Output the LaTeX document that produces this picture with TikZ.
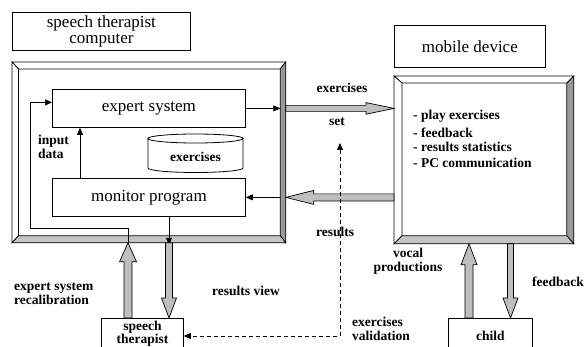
\documentclass[tikz,border=0pt]{standalone}
\usepackage{fontspec}
\setmainfont{LiberationSerif}[Extension=.ttf, UprightFont=*-Regular, BoldFont=*-Bold, ItalicFont=*-Italic, BoldItalicFont=*-BoldItalic]
\usetikzlibrary{calc,arrows.meta}
\definecolor{darkstrip}{HTML}{999999}
\definecolor{lightstrip}{HTML}{C4C4C4}
\definecolor{fatgray}{HTML}{BEBEBE}
\tikzset{
  box/.style={draw, line width=0.8pt, inner sep=0pt, font=\fontsize{17}{15.5}\selectfont, align=center},
  frame/.style={draw, line width=0.8pt, inner sep=0pt},
  lbl/.style={font=\fontsize{13.5}{14}\selectfont\bfseries, inner sep=0pt},
  conn/.style={line width=0.7pt, -{Triangle[length=7pt,width=6pt]}},
  bev/.style={line width=0.7pt, line join=miter},
  fatstyle/.style={fill=fatgray, draw, line width=0.7pt, line join=miter},
  dashconn/.style={line width=0.6pt, dash pattern=on 4pt off 3pt, {Triangle[length=7pt,width=6pt]}-{Triangle[length=7pt,width=6pt]}}
}
\newcommand\bevel[5]{%
  \coordinate (#1-nw) at ($(#1.north west)+(#2pt,-#3pt)$);
  \coordinate (#1-ne) at ($(#1.north east)+(-#4pt,-#3pt)$);
  \coordinate (#1-se) at ($(#1.south east)+(-#4pt,#5pt)$);
  \coordinate (#1-sw) at ($(#1.south west)+(#2pt,#5pt)$);
  \filldraw[fill=white,bev] (#1.north west) -- (#1.north east) -- (#1-ne) -- (#1-nw) -- cycle;
  \filldraw[fill=white,bev] (#1.north west) -- (#1-nw) -- (#1-sw) -- (#1.south west) -- cycle;
  \filldraw[fill=darkstrip,bev] (#1.north east) -- (#1.south east) -- (#1-se) -- (#1-ne) -- cycle;
  \filldraw[fill=lightstrip,bev] (#1.south west) -- (#1-sw) -- (#1-se) -- (#1.south east) -- cycle;
}
\newcommand\fatarr[5]{%
  \path coordinate (fh) at ($(#2)!#5!(#1)$);
  \filldraw[fatstyle] ($(#1)!#3!90:(#2)$) -- ($(fh)!#3!90:(#2)$) -- ($(fh)!#4!90:(#2)$) -- (#2)
    -- ($(fh)!#4!-90:(#2)$) -- ($(fh)!#3!-90:(#2)$) -- ($(#1)!#3!-90:(#2)$) -- cycle;
}
\begin{document}
\begin{tikzpicture}[x=1pt,y=-1pt]
\clip (0,0) rectangle (585,347);
\fill[white] (0,0) rectangle (585,347);

% label boxes
\node[box, anchor=north west, minimum width=178pt, minimum height=38pt] (stc) at (12,12) {speech therapist\\computer};
\node[box, anchor=north west, minimum width=151pt, minimum height=42pt] (mobl) at (394,25) {mobile device};

% frames
\node[frame, anchor=north west, minimum width=273pt, minimum height=180pt] (comp) at (12,62) {};
\bevel{comp}{6.5}{7}{5.5}{7}
\node[frame, anchor=north west, minimum width=179pt, minimum height=167pt] (mob) at (394,76) {};
\bevel{mob}{8}{7}{7}{8}

% inner boxes
\node[box, anchor=north west, minimum width=193pt, minimum height=38pt] (es) at (52,89) {expert system};
\node[box, anchor=north west, minimum width=193pt, minimum height=38pt] (mp) at (52,178) {monitor program};

% cylinder
\draw[line width=0.8pt] (148,138.5) -- (148,168) arc[start angle=180, end angle=360, x radius=47.5pt, y radius=4.5pt] -- (243,138.5);
\draw[line width=0.8pt] (195.5,138.5) ellipse [x radius=47.5pt, y radius=4.5pt];
\node[lbl] (exc) at (195.5,157) {exercises};

% bottom boxes
\node[box, anchor=north west, minimum width=82pt, minimum height=31pt, font=\fontsize{13.5}{13}\selectfont\bfseries] (st) at (101,318) {speech\\therapist};
\node[box, anchor=north west, minimum width=84pt, minimum height=34pt, font=\fontsize{13.5}{13}\selectfont\bfseries] (ch) at (448,318) {child};

% thin connectors
\coordinate (xi) at (80,0);
\coordinate (xu) at (128,0);
\coordinate (xd) at (169,0);
\coordinate (lp) at (30,228);
\draw[conn] (es.east) -- (comp-ne |- es.east);
\draw[conn] (comp-ne |- mp.east) -- (mp.east);
\draw[conn] (xi |- mp.north) -- (xi |- es.south);
\draw[conn] (xd |- mp.south) -- ($(xd |- comp.south)+(0,2)$);
\draw[conn] (xu |- comp.south) -- (xu |- lp) -- (lp) |- ($(es.west)+(0,-6)$);

% fat arrows
\coordinate (xa) at (comp.east |- es.east);
\coordinate (xb) at (mob.west |- es.east);
\fatarr{xa}{xb}{3pt}{5.8pt}{28pt}
\coordinate (ra) at (mob.west |- mp.east);
\coordinate (rb) at (comp.east |- mp.east);
\fatarr{ra}{rb}{3.5pt}{7pt}{28pt}
\coordinate (ua) at (xu |- st.north);
\coordinate (ub) at (xu |- comp.south);
\fatarr{ua}{ub}{4pt}{8.5pt}{19pt}
\coordinate (da) at (xd |- comp.south);
\coordinate (db) at (xd |- st.north);
\fatarr{da}{db}{3.5pt}{7.5pt}{20pt}
\coordinate (xv) at (469,0);
\coordinate (xf) at (510.5,0);
\coordinate (va) at (xv |- ch.north);
\coordinate (vb) at (xv |- mob.south);
\fatarr{va}{vb}{4pt}{8pt}{21pt}
\coordinate (fa) at (xf |- mob.south);
\coordinate (fb) at (xf |- ch.north);
\fatarr{fa}{fb}{3pt}{7.5pt}{20pt}

% dashed validation
\coordinate (dc) at (340,336);
\coordinate (dt) at (340,143);
\draw[dashconn] (dt) -- (dc) -- (st.east |- dc);

% labels
\node[lbl] (lex) at (342,88) {exercises};
\node[lbl] (lset) at (337,122) {set};
\node[lbl] (lres) at (335,232) {results};
\node[lbl, align=left, anchor=west] (lin) at (38,146.5) {input\\data};
\node[lbl, align=left, anchor=west] (lrec) at (14,294) {expert system\\recalibration};
\node[lbl] (lview) at (246,291) {results view};
\node[lbl, align=center] (lvoc) at (408,261.5) {vocal\\productions};
\node[lbl, anchor=west] (lfb) at (532,282) {feedback};
\node[lbl, align=left, anchor=west] (lval) at (352,328.5) {exercises\\validation};

% bullet list
\node[lbl, anchor=west] (b1) at (413,116) {- play exercises};
\node[lbl, anchor=west] (b2) at (413,133) {- feedback};
\node[lbl, anchor=west] (b3) at (413,147) {- results statistics};
\node[lbl, anchor=west] (b4) at (413,163) {- PC communication};
\end{tikzpicture}
\end{document}
